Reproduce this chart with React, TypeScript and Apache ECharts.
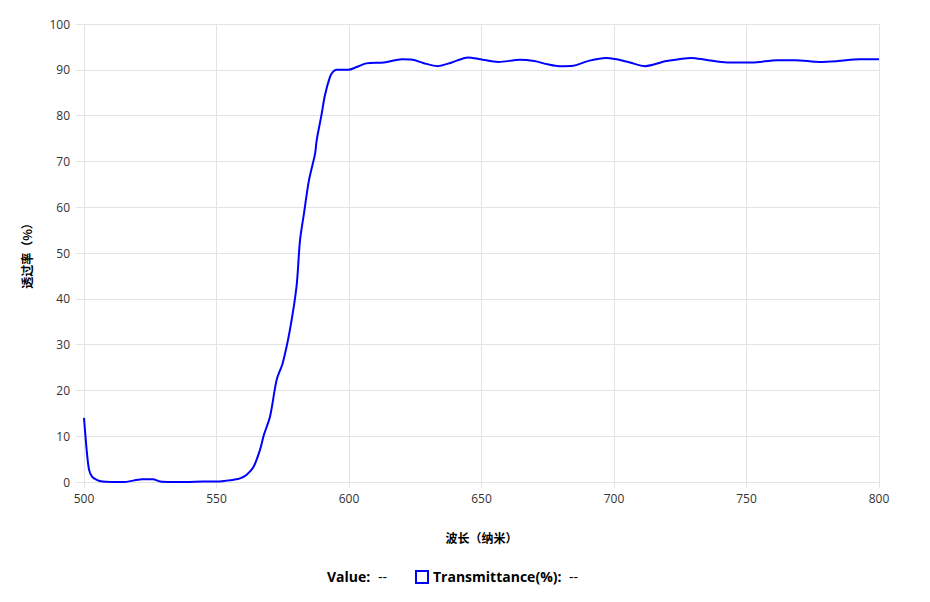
import React, { useEffect, useRef } from "react";
import * as echarts from "echarts";

const wavelengths = [
  500, 501, 501.9, 503.1, 505, 506.9, 510, 515, 518.6, 522, 526, 528.7, 533, 538.7, 545, 550, 553.8, 556.5, 558.9,
  561.4, 563.9, 566.4, 567.9, 570.2, 572.7, 575, 577.7, 580.2, 581.5, 583, 584.9, 587.2, 587.8, 589.7, 590.9,
  592.8, 594, 595.4, 599.7, 602.9, 606.5, 613.2, 620, 624, 628, 633.4, 638.8, 644.9, 649.6, 656.4, 664.5,
  669.9, 675, 679.3, 684.7, 690.1, 696.8, 700.9, 706, 711.7, 719.8, 729.2, 734.6, 742.7, 752.1, 761.6, 768.3,
  777.7, 784.5, 792.6, 800,
];
const transmittance = [
  14.0, 7.0, 2.7, 1.1, 0.4, 0.1, 0.0, 0.0, 0.3, 0.6, 0.6, 0.1, 0.0, 0.0, 0.1, 0.1, 0.3, 0.5, 0.8,
  1.6, 3.2, 7.0, 10.3, 14.3, 22.3, 26.0, 33.2, 42.7, 52.7, 58.6, 65.9, 71.7, 74.6, 80.4, 84.4,
  88.4, 89.6, 90.0, 90.0, 90.6, 91.4, 91.6, 92.3, 92.2, 91.5, 90.8, 91.6, 92.7, 92.3, 91.7, 92.2,
  91.9, 91.2, 90.8, 90.9, 91.9, 92.6, 92.3, 91.6, 90.8, 91.9, 92.6, 92.2, 91.6, 91.6, 92.1, 92.1,
  91.7, 91.9, 92.3, 92.3,
];

const xAxisName = "波长（纳米）";
const yAxisName = "透过率（%）";
const seriesName = "Transmittance(%)";

export default function App() {
  const ref = useRef<HTMLDivElement>(null);
  useEffect(() => {
    document.body.style.margin = "0";
    if (!ref.current) return;
    const chart = echarts.init(ref.current, undefined, { renderer: "svg" });
    const font = "'Open Sans', 'Noto Sans CJK SC', sans-serif";
    chart.setOption({
      animation: false,
      textStyle: { fontFamily: font },
      grid: { left: 84, right: 51, top: 24, bottom: 120, containLabel: false },
      xAxis: {
        type: "value",
        min: 500,
        max: 800,
        interval: 50,
        name: xAxisName,
        nameLocation: "middle",
        nameGap: 49,
        nameTextStyle: { fontWeight: "bold", fontSize: 12, color: "#000", fontFamily: "'Noto Sans CJK SC', sans-serif" },
        axisLine: { show: true, lineStyle: { color: "#e3e3e3", width: 1 } },
        axisTick: { show: true, length: 6, lineStyle: { color: "#e3e3e3" } },
        axisLabel: { color: "#333", fontSize: 12, margin: 10 },
        splitLine: { show: true, lineStyle: { color: "#e3e3e3", width: 1 } },
      },
      yAxis: {
        type: "value",
        min: 0,
        max: 100,
        interval: 10,
        name: yAxisName,
        nameLocation: "middle",
        nameGap: 52,
        nameRotate: 90,
        nameTextStyle: { fontWeight: "bold", fontSize: 12, color: "#000", fontFamily: "'Noto Sans CJK SC', sans-serif" },
        axisLine: { show: true, lineStyle: { color: "#e3e3e3", width: 1 } },
        axisTick: { show: true, length: 8, lineStyle: { color: "#e3e3e3" } },
        axisLabel: { color: "#333", fontSize: 12, margin: 14 },
        splitLine: { show: true, lineStyle: { color: "#e3e3e3", width: 1 } },
      },
      series: [
        {
          name: seriesName,
          type: "line",
          data: wavelengths.map((w, i) => [w, transmittance[i]]),
          showSymbol: false,
          smooth: 0.3,
          lineStyle: { color: "#0000ff", width: 2 },
          itemStyle: { color: "#0000ff" },
        },
      ],
      graphic: [
        {
          type: "text",
          left: 327,
          top: 569,
          style: { text: "Value:", font: `bold 14px ${font}`, fill: "#000" },
        },
        {
          type: "text",
          left: 378,
          top: 569,
          style: { text: "--", font: `14px ${font}`, fill: "#000" },
        },
        {
          type: "rect",
          shape: { x: 416, y: 571, width: 12, height: 12 },
          style: { fill: "#fff", stroke: "#0000ff", lineWidth: 2 },
        },
        {
          type: "text",
          left: 433,
          top: 569,
          style: { text: seriesName + ":", font: `bold 14px ${font}`, fill: "#000" },
        },
        {
          type: "text",
          left: 569,
          top: 569,
          style: { text: "--", font: `14px ${font}`, fill: "#000" },
        },
      ],
    });
    return () => chart.dispose();
  }, []);
  return <div ref={ref} style={{ width: 930, height: 602 }} />;
}
